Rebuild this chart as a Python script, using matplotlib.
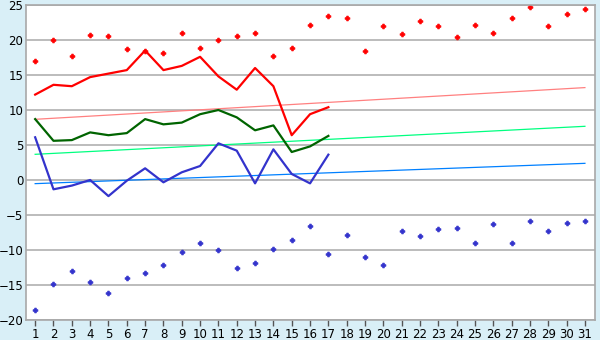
import numpy as np
import matplotlib
matplotlib.use("Agg")
import matplotlib.pyplot as plt

days = list(range(1, 32))

# record highs / lows per day (scatter)
max_record = [17.0, 20.0, 17.7, 20.7, 20.6, 18.7, 18.5, 18.2, 21.0, 18.8,
              20.0, 20.6, 21.0, 17.7, 18.8, 22.2, 23.4, 23.2, 18.5, 22.0,
              20.8, 22.7, 22.0, 20.5, 22.2, 21.0, 23.2, 24.7, 22.0, 23.7, 24.4]
min_record = [-18.6, -14.9, -13.0, -14.5, -16.2, -14.0, -13.3, -12.2, -10.3, -9.05,
              -10.05, -12.6, -11.9, -9.8, -8.5, -6.6, -10.6, -7.9, -11.05, -12.2,
              -7.3, -8.05, -7.05, -6.9, -9.05, -6.3, -9.05, -5.8, -7.3, -6.2, -5.9]

# this month so far (days 1-17)
max_temp = [12.2, 13.6, 13.4, 14.7, 15.2, 15.7, 18.5, 15.7, 16.3, 17.6,
            14.8, 12.9, 16.0, 13.4, 6.4, 9.4, 10.4]
mean_temp = [8.7, 5.6, 5.7, 6.8, 6.4, 6.7, 8.7, 7.95, 8.2, 9.4,
             10.0, 8.95, 7.1, 7.8, 4.0, 4.8, 6.3]
min_temp = [6.1, -1.33, -0.8, 0.0, -2.3, -0.1, 1.67, -0.33, 1.1, 2.0,
            5.24, 4.19, -0.48, 4.38, 0.86, -0.48, 3.62]

# long term averages, start and end of month
avg_max = [8.67, 13.2]
avg_mean = [3.67, 7.67]
avg_min = [-0.52, 2.38]

bg = "#d9eff7"
fig = plt.figure(figsize=(6, 3.4), dpi=100, facecolor=bg)
ax = fig.add_axes([26 / 600, 20 / 340, 569 / 600, 315 / 340])
ax.set_facecolor("white")

ax.set_xlim(0.5, 31.55)
ax.set_ylim(-20, 25)
ax.set_yticks(range(-20, 26, 5))
ax.set_xticks(days)
ax.grid(axis="y", color="#b0b0b0", linewidth=1.2)
ax.set_axisbelow(True)
for s in ax.spines.values():
    s.set_color("#a8a8a8")
    s.set_linewidth(1.2)

ax.tick_params(axis="y", length=0, pad=2, labelsize=8.5)
ax.tick_params(axis="x", length=4, width=1, color="#555555", pad=2, labelsize=8.5)

ends = [days[0], days[-1]]
ax.plot(ends, avg_max, color="#ff8080", lw=0.9)
ax.plot(ends, avg_mean, color="#00ff80", lw=0.9)
ax.plot(ends, avg_min, color="#0080ff", lw=0.9)

n = len(max_temp)
ax.plot(days[:n], max_temp, color="#ff0000", lw=1.6)
ax.plot(days[:n], mean_temp, color="#006400", lw=1.6)
ax.plot(days[:n], min_temp, color="#3333cc", lw=1.6)

ax.plot(days, max_record, ls="none", marker="P", ms=3.4, color="#ff0000", mew=0.6)
ax.plot(days, min_record, ls="none", marker="P", ms=3.4, color="#3333cc", mew=0.6)

fig.savefig("out.png", dpi=100, facecolor=bg)
